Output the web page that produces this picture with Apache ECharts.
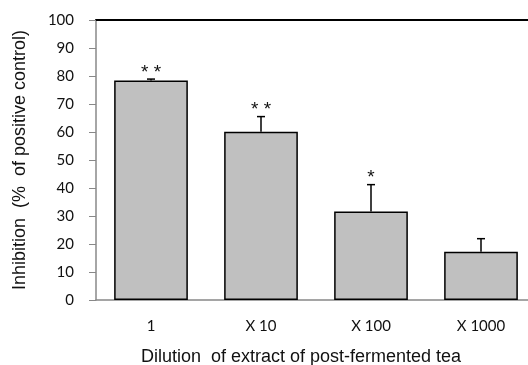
<!DOCTYPE html>
<html>
<head>
<meta charset="utf-8">
<script src="https://cdn.jsdelivr.net/npm/echarts@6/dist/echarts.min.js"></script>
<style>
  html, body { margin: 0; padding: 0; background: #fff; }
  #chart { width: 528px; height: 365px; }
</style>
</head>
<body>
<div id="chart"></div>
<script>
var dilutions = ['1', 'X 10', 'X 100', 'X 1000'];
var inhibition = [78.4, 60.1, 31.6, 17.2];
var errors = [0.5, 5.4, 9.6, 4.7];
var marks = ['* *', '* *', '*', ''];

var myChart = echarts.init(document.getElementById('chart'));
var errData = inhibition.map(function (v, i) {
    return [i, v, v + errors[i]];
});
var option = {
    animation: false,
    grid: { left: 96, width: 440, top: 20, bottom: 65, outerBoundsMode: 'none' },
    xAxis: [{
        type: 'category',
        data: dilutions,
        axisLine: { lineStyle: { color: '#888', width: 1.5 } },
        axisTick: { show: false },
        axisLabel: { color: '#111', fontSize: 15, fontFamily: 'Lato', margin: 19 },
        name: 'Dilution  of extract of post-fermented tea',
        nameLocation: 'middle',
        nameGap: 48,
        nameTextStyle: { color: '#111', fontSize: 18, fontFamily: 'Liberation Sans', padding: [0, 30, 0, 0] }
    }, {
        type: 'category',
        data: dilutions,
        position: 'top',
        axisLine: { lineStyle: { color: '#000', width: 2 } },
        axisTick: { show: false },
        axisLabel: { show: false }
    }],
    yAxis: {
        type: 'value',
        min: 0,
        max: 100,
        interval: 10,
        splitLine: { show: false },
        axisLine: { show: true, lineStyle: { color: '#888', width: 1.5 } },
        axisTick: { show: true, length: 7, lineStyle: { color: '#888' } },
        axisLabel: { color: '#111', fontSize: 15, fontFamily: 'Lato', margin: 22 },
        name: 'Inhibition  (%  of positive control)',
        nameLocation: 'middle',
        nameGap: 67,
        nameTextStyle: { color: '#111', fontSize: 18, fontFamily: 'Liberation Sans' }
    },
    series: [{
        type: 'bar',
        data: inhibition,
        barWidth: '67%',
        itemStyle: { color: '#c0c0c0', borderColor: '#000', borderWidth: 1.5 }
    }, {
        type: 'custom',
        data: errData,
        z: 5,
        renderItem: function (params, api) {
            var base = api.coord([api.value(0), api.value(1)]);
            var top = api.coord([api.value(0), api.value(2)]);
            var cap = 4;
            return {
                type: 'group',
                children: [{
                    type: 'line',
                    shape: { x1: base[0], y1: base[1], x2: top[0], y2: top[1] },
                    style: { stroke: '#000', lineWidth: 1.5 }
                }, {
                    type: 'line',
                    shape: { x1: top[0] - cap, y1: top[1], x2: top[0] + cap, y2: top[1] },
                    style: { stroke: '#000', lineWidth: 1.5 }
                }, {
                    type: 'text',
                    x: top[0],
                    y: top[1] + 3,
                    style: {
                        text: marks[params.dataIndex],
                        fill: '#111',
                        font: '19px Liberation Sans',
                        align: 'center',
                        verticalAlign: 'bottom'
                    }
                }]
            };
        }
    }]
};
myChart.setOption(option);
</script>
</body>
</html>
